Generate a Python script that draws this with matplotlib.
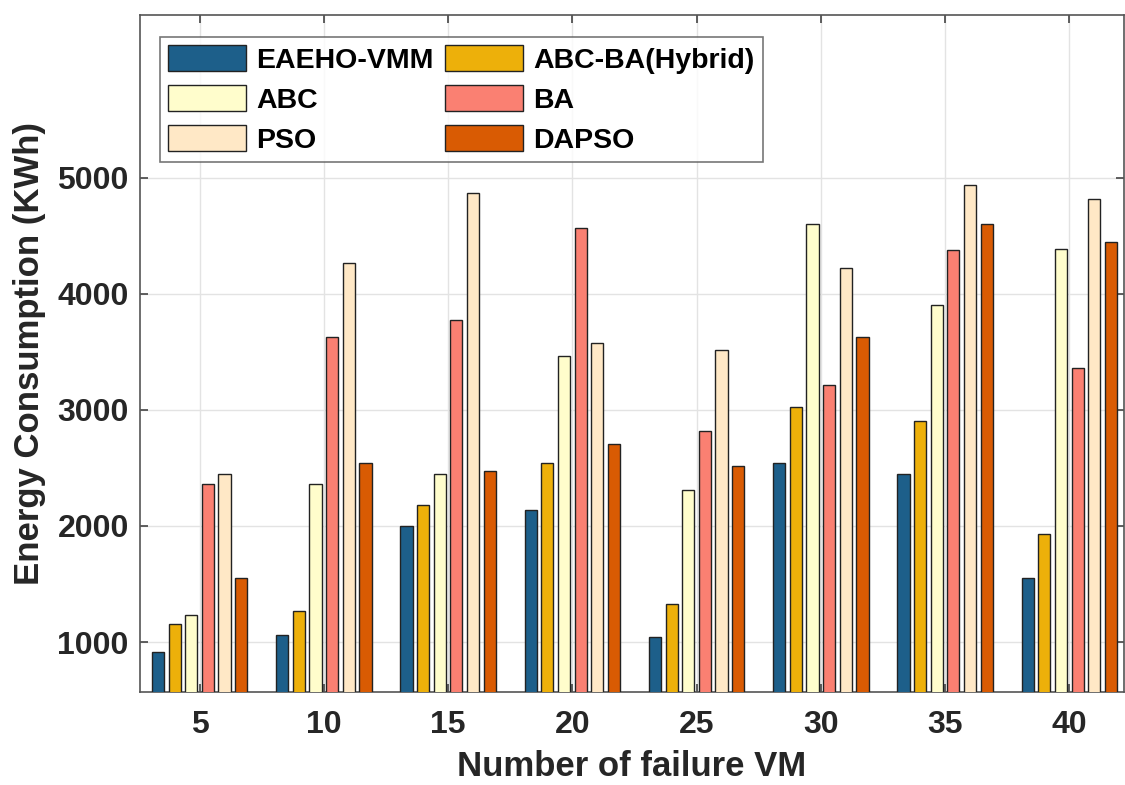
import matplotlib
matplotlib.use('Agg')
import matplotlib.pyplot as plt
import numpy as np

plt.rcParams['font.family'] = ['Liberation Sans', 'DejaVu Sans']
plt.rcParams['font.weight'] = 'bold'

# data
failures = [5, 10, 15, 20, 25, 30, 35, 40]
methods = ['EAEHO-VMM', 'ABC-BA(Hybrid)', 'ABC', 'BA', 'PSO', 'DAPSO']
eaeho = [910, 1057, 1997, 2141, 1042, 2538, 2450, 1553]
abc_ba = [1153, 1264, 2183, 2538, 1330, 3027, 2904, 1928]
abc = [1234, 2363, 2450, 3459, 2306, 4601, 3904, 4387]
ba = [2363, 3628, 3769, 4565, 2814, 3213, 4378, 3360]
pso = [2450, 4267, 4865, 3571, 3514, 4222, 4934, 4811]
dapso = [1553, 2538, 2471, 2703, 2517, 3625, 4601, 4444]
series = [eaeho, abc_ba, abc, ba, pso, dapso]
colors = ['#1D5F8A', '#EDB00A', '#FFFDCC', '#FA8072', '#FFE8C6', '#D95B03']

fig = plt.figure(figsize=(11.25, 7.85), dpi=100)
ax = fig.add_axes([0.1244, 0.1185, 0.8747, 0.8625])

x = np.array(failures, dtype=float)
pitch = 0.67
width = 0.49
bars = []
for i, (vals, c, name) in enumerate(zip(series, colors, methods)):
    b = ax.bar(x + (i - 2.5) * pitch, vals, width=width, color=c,
               edgecolor='#222222', linewidth=1.0, label=name, zorder=3)
    bars.append(b)

ax.set_xlim(2.6, 42.2)
ax.set_ylim(570, 6400)
ax.set_xticks(failures)
ax.set_yticks([1000, 2000, 3000, 4000, 5000])
ax.grid(True, color='#E3E3E3', linewidth=1.0, zorder=0)
ax.tick_params(direction='in', length=6, width=1.2, color='#444444',
               labelsize=23, labelcolor='#262626', top=True, right=True)
ax.tick_params(axis='x', pad=13)
ax.tick_params(axis='y', pad=8)
for lbl in ax.get_xticklabels() + ax.get_yticklabels():
    lbl.set_fontweight('bold')
for s in ax.spines.values():
    s.set_color('#555555')
    s.set_linewidth(1.2)

ax.set_xlabel('Number of failure VM', fontsize=25, fontweight='bold',
              color='#262626', labelpad=7)
ax.set_ylabel('Energy Consumption (KWh)', fontsize=25, fontweight='bold',
              color='#262626', labelpad=8)

# legend filled row by row, like the original
order = [0, 2, 4, 1, 3, 5]
leg = ax.legend([bars[k] for k in order], [methods[k] for k in order],
                loc='upper left', ncol=2, bbox_to_anchor=(0.02, 0.9675),
                prop={'size': 20.5, 'weight': 'bold'}, frameon=True,
                fancybox=False, edgecolor='#555555', handlelength=2.75,
                handleheight=1.0, handletextpad=0.35, columnspacing=0.4,
                labelspacing=0.4, borderpad=0.3, borderaxespad=0)
leg.get_frame().set_linewidth(1.2)

fig.savefig('out.png', dpi=100)
